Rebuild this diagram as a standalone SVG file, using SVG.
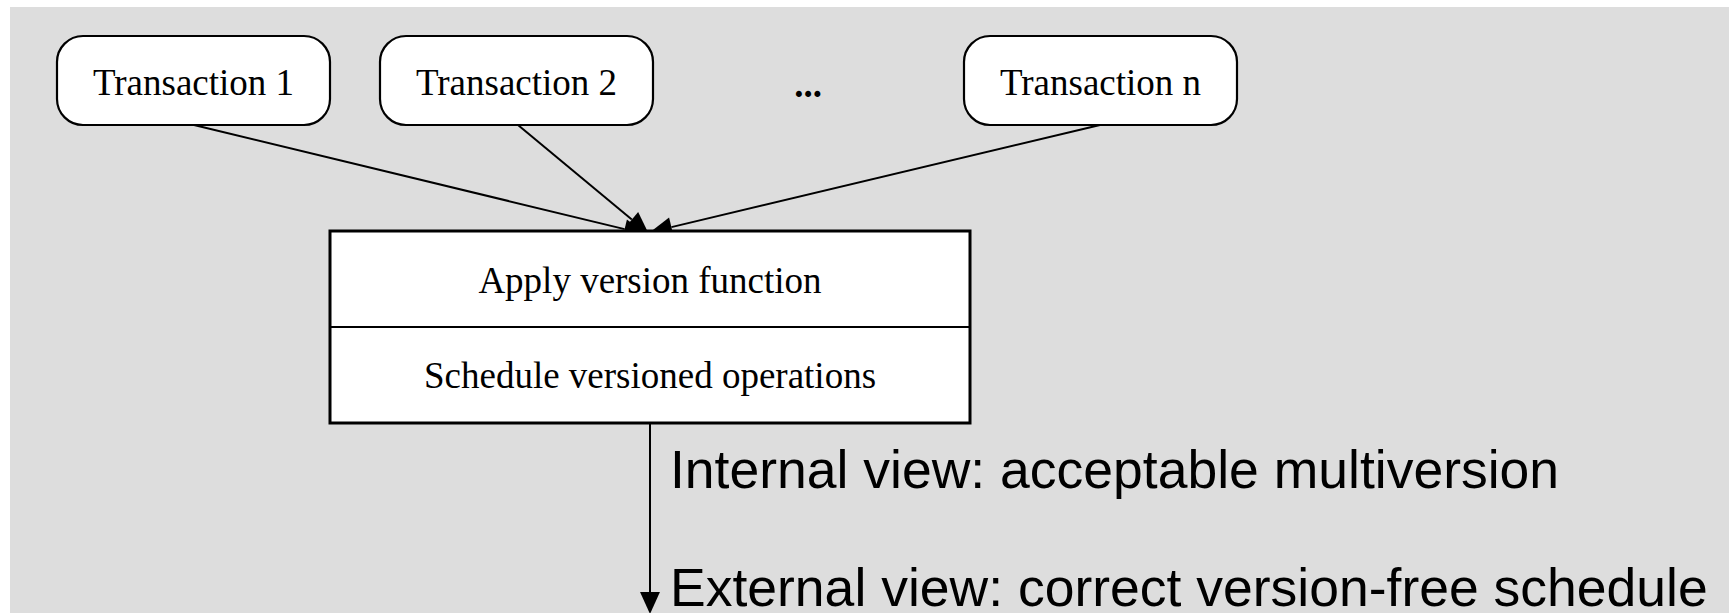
<svg xmlns="http://www.w3.org/2000/svg" width="1729" height="613" viewBox="0 0 1729 613">
  <defs>
    <style>
      .node rect { fill: #ffffff; stroke: #000000; stroke-width: 2.2; }
      .lbl { font-family: "Liberation Serif", "Times New Roman", serif; font-size: 37px; fill: #000; text-anchor: middle; }
      .big { font-family: "Liberation Sans", Arial, sans-serif; font-size: 53.5px; fill: #000; }
      .edge { stroke: #000; stroke-width: 2; fill: none; marker-end: url(#ah); }
    </style>
    <marker id="ah" markerUnits="userSpaceOnUse" markerWidth="22" markerHeight="20" refX="0" refY="9.5" orient="auto" viewBox="0 0 21 19" overflow="visible">
      <path d="M0,0 L21,9.5 L0,19 z" fill="#000"/>
    </marker>
  </defs>
  <rect x="10" y="7" width="1719" height="606" fill="#dddddd"/>

  <g id="connectors">
    <path class="edge" d="M194,125 L624.6,229.1"/>
    <path class="edge" d="M518,125 L631.8,219.6"/>
    <path class="edge" d="M1100,125 L671.4,227.1"/>
    <path class="edge" d="M650,423 L650,592"/>
  </g>

  <g id="t1" class="node">
    <rect x="57" y="36" width="273" height="89" rx="26" ry="26"/>
    <text class="lbl" x="193.5" y="95">Transaction 1</text>
  </g>
  <g id="t2" class="node">
    <rect x="380" y="36" width="273" height="89" rx="26" ry="26"/>
    <text class="lbl" x="516.5" y="95">Transaction 2</text>
  </g>
  <g id="dots">
    <text class="lbl" x="808" y="97" font-weight="bold" font-size="44px">...</text>
  </g>
  <g id="tn" class="node">
    <rect x="964" y="36" width="273" height="89" rx="26" ry="26"/>
    <text class="lbl" x="1100.5" y="95">Transaction n</text>
  </g>

  <g id="scheduler">
    <rect x="330" y="231" width="640" height="192" fill="#ffffff" stroke="#000" stroke-width="3"/>
    <line x1="330" y1="327" x2="970" y2="327" stroke="#000" stroke-width="2"/>
    <text class="lbl" x="650" y="293">Apply version function</text>
    <text class="lbl" x="650" y="388">Schedule versioned operations</text>
  </g>

  <g id="labels">
    <text class="big" x="670" y="488">Internal view: acceptable multiversion</text>
    <text class="big" x="670" y="606">External view: correct version-free schedule</text>
  </g>
</svg>
